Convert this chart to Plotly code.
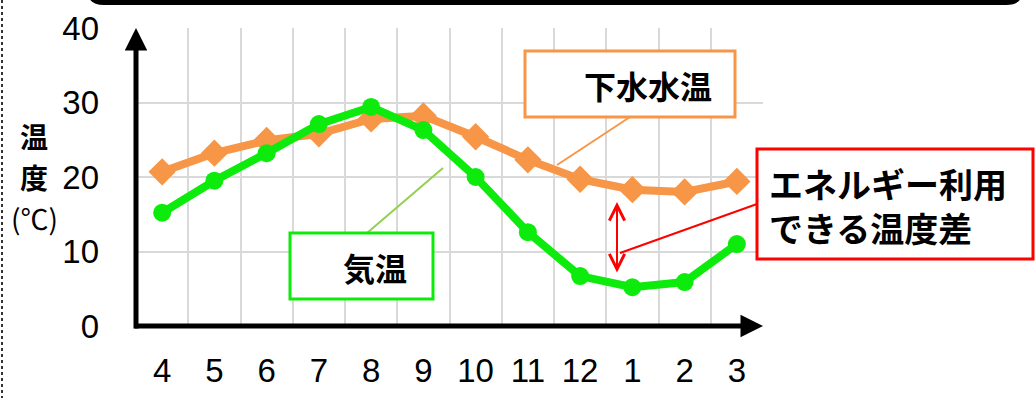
import plotly.graph_objects as go

months = ["4", "5", "6", "7", "8", "9", "10", "11", "12", "1", "2", "3"]
sewer_temp = [20.7, 23.2, 24.9, 25.8, 27.8, 28.2, 25.4, 22.3, 19.7, 18.3, 18.0, 19.4]
air_temp = [15.2, 19.5, 23.2, 27.1, 29.4, 26.3, 20.0, 12.6, 6.7, 5.2, 5.9, 11.0]
yticks = [0, 10, 20, 30, 40]

W, H = 1035, 398
L, R, T, B = 136, 763, 28, 326

def px(x):
    return (x - L) / (R - L)

def py(y):
    return (B - y) / (B - T)

xi = list(range(len(months)))
LATIN = "Liberation Sans, Arial, sans-serif"
CJK = "Noto Sans CJK JP, sans-serif"

fig = go.Figure()
fig.add_trace(go.Scatter(x=xi, y=sewer_temp, mode="lines+markers",
                         line=dict(color="#F79646", width=8),
                         marker=dict(symbol="diamond", size=21, color="#F79646"),
                         name="下水水温", cliponaxis=False))
fig.add_trace(go.Scatter(x=xi, y=air_temp, mode="lines+markers",
                         line=dict(color="#0CEB0C", width=8),
                         marker=dict(symbol="circle", size=18, color="#0CEB0C"),
                         name="気温", cliponaxis=False))

shapes = []
annotations = []

# top black band (bottom of a title frame)
shapes.append(dict(type="path", xref="paper", yref="paper",
                   path=(f"M {px(88)},{py(-8)} "
                         f"Q {px(88)},{py(5)} {px(104)},{py(5)} L {px(1006)},{py(5)} "
                         f"Q {px(1022)},{py(5)} {px(1022)},{py(-8)} Z"),
                   fillcolor="black", line=dict(color="black", width=0)))
# left dotted border
shapes.append(dict(type="line", xref="paper", yref="paper",
                   x0=px(2), x1=px(2), y0=py(0), y1=py(398),
                   line=dict(color="#333", width=2, dash="dot")))

# orange callout
shapes.append(dict(type="line", xref="paper", yref="paper",
                   x0=px(630), y0=py(117), x1=px(557), y1=py(165),
                   line=dict(color="#F79646", width=2)))
shapes.append(dict(type="rect", xref="paper", yref="paper",
                   x0=px(525), x1=px(735), y0=py(117), y1=py(51),
                   line=dict(color="#F79646", width=3), fillcolor="white"))
annotations.append(dict(text="下水水温", xref="paper", yref="paper",
                        x=px(714), y=py(85), xanchor="right", yanchor="middle",
                        showarrow=False,
                        font=dict(family=CJK, size=32, color="black", weight="bold")))

# green callout
shapes.append(dict(type="line", xref="paper", yref="paper",
                   x0=px(367), y0=py(233), x1=px(443), y1=py(168),
                   line=dict(color="#92D050", width=2)))
shapes.append(dict(type="rect", xref="paper", yref="paper",
                   x0=px(290), x1=px(433), y0=py(299), y1=py(233),
                   line=dict(color="#0CEB0C", width=3), fillcolor="white"))
annotations.append(dict(text="気温", xref="paper", yref="paper",
                        x=px(375), y=py(267), xanchor="center", yanchor="middle",
                        showarrow=False,
                        font=dict(family=CJK, size=32, color="black", weight="bold")))

# red callout
shapes.append(dict(type="line", xref="paper", yref="paper",
                   x0=px(620), y0=py(253), x1=px(757), y1=py(204),
                   line=dict(color="#FF0000", width=2)))
shapes.append(dict(type="rect", xref="paper", yref="paper",
                   x0=px(757), x1=px(1033), y0=py(259), y1=py(149),
                   line=dict(color="#FF0000", width=3), fillcolor="white"))
annotations.append(dict(text="エネルギー利用<br>できる温度差", xref="paper", yref="paper",
                        x=px(767), y=py(205), xanchor="left", yanchor="middle", align="left",
                        showarrow=False,
                        font=dict(family=CJK, size=34, color="black", weight="bold")))
annotations.append(dict(text="", xref="paper", yref="paper", x=px(617), y=py(202),
                        ax=0, ay=72, showarrow=True, arrowside="end+start",
                        arrowhead=5, startarrowhead=5, arrowsize=1.5, startarrowsize=1.5,
                        arrowwidth=2, arrowcolor="#FF0000"))

# axis arrows
annotations.append(dict(text="", xref="paper", yref="paper", x=0, y=1,
                        ax=0, ay=302, showarrow=True, arrowhead=2, arrowsize=0.9,
                        arrowwidth=5, arrowcolor="black"))
annotations.append(dict(text="", xref="paper", yref="paper", x=1, y=0,
                        ax=-630, ay=0, showarrow=True, arrowhead=2, arrowsize=0.9,
                        arrowwidth=5, arrowcolor="black"))

# y axis title
for txt, yy, wt in [("温", 136, "bold"), ("度", 177, "bold"), ("(℃)", 218, "normal")]:
    annotations.append(dict(text=txt, xref="paper", yref="paper", x=px(34), y=py(yy),
                            xanchor="center", yanchor="middle", showarrow=False,
                            font=dict(family=CJK, size=28, color="black", weight=wt)))

fig.update_layout(
    width=W, height=H,
    margin=dict(l=L, r=W - R, t=T, b=H - B, pad=0, autoexpand=False),
    paper_bgcolor="white", plot_bgcolor="white",
    showlegend=False,
    shapes=shapes, annotations=annotations,
    xaxis=dict(range=[-0.5, 11.5], tickmode="array", tickvals=xi, ticktext=months,
               showgrid=False, zeroline=False, showline=False, automargin=False,
               ticks="", ticklabelstandoff=22,
               tickfont=dict(family=LATIN, size=33, color="black"),
               minor=dict(tick0=-0.5, dtick=1, showgrid=True, gridcolor="#D9D9D9", gridwidth=2)),
    yaxis=dict(range=[0, 40], tickmode="array", tickvals=yticks,
               ticktext=[str(v) for v in yticks], automargin=False,
               showgrid=True, gridcolor="#D9D9D9", gridwidth=2,
               zeroline=False, showline=False, ticks="", ticklabelstandoff=36,
               tickfont=dict(family=LATIN, size=33, color="black")),
)

fig.write_html("out.html")
